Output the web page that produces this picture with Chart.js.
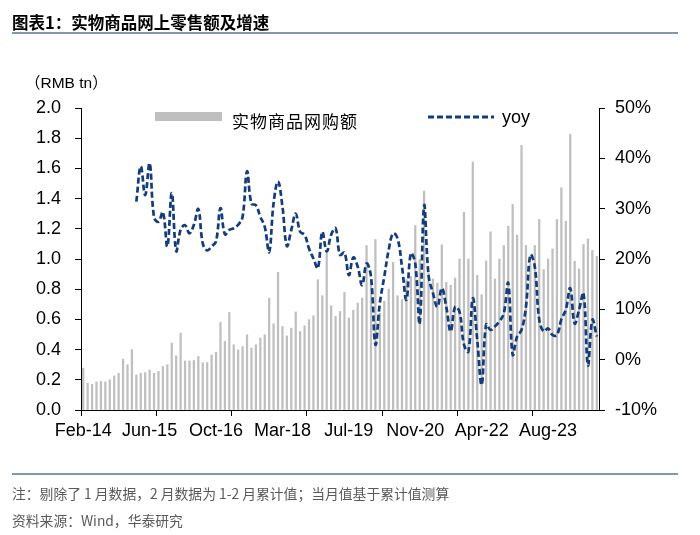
<!DOCTYPE html>
<html><head><meta charset="utf-8">
<script src="https://cdn.jsdelivr.net/npm/chart.js@4/dist/chart.umd.min.js"></script>
<style>
html,body{margin:0;padding:0;background:#fff;}
#wrap{position:relative;width:700px;height:535px;overflow:hidden;background:#fff;}
#c{position:absolute;left:0;top:0;}
.t{position:absolute;white-space:nowrap;line-height:1;}
.rule{position:absolute;left:12px;width:666px;height:2px;background:#8497b0;}
</style></head><body>
<div id="wrap">
<canvas id="c" width="700" height="535"></canvas>
<div class="t" style="left:12px;top:10px;font:bold 16.5px 'Noto Sans CJK SC';color:#000;">图表1：实物商品网上零售额及增速</div>
<div class="rule" style="top:32px;"></div>
<div class="t" style="left:25px;top:70px;font:15.5px 'Liberation Sans','Noto Sans CJK SC';color:#000;">（RMB tn）</div>
<div style="position:absolute;left:155px;top:112px;width:67px;height:9px;background:#bfbfbf;"></div>
<div class="t" style="left:232px;top:108px;font:17px 'Noto Sans CJK SC';letter-spacing:1px;color:#000;">实物商品网购额</div>
<svg style="position:absolute;left:426px;top:110px;" width="70" height="14"><line x1="2" y1="7" x2="68" y2="7" stroke="#143b7a" stroke-width="3" stroke-dasharray="6 3"/></svg>
<div class="t" style="left:502px;top:107px;font:18px 'Liberation Sans';color:#000;">yoy</div>
<div class="rule" style="top:473px;"></div>
<div class="t" style="left:12px;top:483px;font:13.8px 'Noto Sans CJK SC';color:#595959;">注：剔除了 1 月数据，2 月数据为 1-2 月累计值；当月值基于累计值测算</div>
<div class="t" style="left:12px;top:510px;font:13.8px 'Noto Sans CJK SC';color:#595959;">资料来源：Wind，华泰研究</div>
</div>
<script>
// Categories: monthly, January excluded (Feb = Jan-Feb cumulative)
const monthNames = ['Jan','Feb','Mar','Apr','May','Jun','Jul','Aug','Sep','Oct','Nov','Dec'];
const startYear = 2014, endYear = 2024, endMonth = 8;
const categories = [];
for (let y = startYear; y <= endYear; y++) {
  for (let m = 2; m <= 12; m++) {
    if (y === endYear && m > endMonth) break;
    categories.push(monthNames[m-1] + '-' + String(y).slice(2));
  }
}
const tickLabels = ['Feb-14','Jun-15','Oct-16','Mar-18','Jul-19','Nov-20','Apr-22','Aug-23'];

// Online retail sales of physical goods, RMB tn
const onlineSales = [
0.277,0.177,0.170,0.186,0.190,0.186,0.200,0.226,0.243,0.336,0.300,
0.400,0.232,0.243,0.248,0.265,0.243,0.255,0.288,0.300,0.443,0.359,
0.509,0.325,0.325,0.328,0.354,0.314,0.314,0.365,0.383,0.580,0.454,
0.646,0.432,0.398,0.420,0.498,0.410,0.432,0.476,0.498,0.741,0.571,
0.912,0.553,0.491,0.542,0.649,0.520,0.558,0.598,0.624,0.863,0.757,
1.040,0.690,0.620,0.653,0.779,0.609,0.660,0.708,0.741,1.089,0.860,
1.129,0.640,0.720,0.800,0.978,0.757,0.730,0.863,0.885,1.222,0.996,
1.450,0.907,0.868,0.840,1.093,0.845,0.826,0.874,1.000,1.310,1.000,
1.642,0.892,0.764,0.987,1.180,0.868,1.000,1.089,1.217,1.361,1.158,
1.753,1.090,0.970,1.089,1.262,0.930,1.000,1.067,1.262,1.472,1.250,
1.826,0.985,0.934,1.096,1.133,1.056,1.018
];

// Year-on-year growth, %
const yoy = [
null,null,null,null,null,null,null,null,null,null,null,
null,31.4,38.4,32.7,39.0,28.3,27.4,29.3,22.5,33.1,21.6,
25.8,26.7,25.1,26.8,29.9,23.1,21.7,22.5,23.5,30.1,24.9,
25.8,26.1,26.8,28.4,37.4,31.0,30.7,28.4,26.4,21.4,31.1,
35.4,30.4,22.6,25.8,29.0,25.4,24.8,22.1,20.1,18.2,25.4,
21.5,24.8,26.1,20.8,21.3,16.8,20.3,18.5,14.8,19.1,16.5,
3.0,11.2,16.5,21.8,25.1,24.1,18.5,11.9,21.1,19.1,7.2,
30.6,16.8,13.2,10.5,14.2,10.5,5.6,10.5,9.5,3.0,1.6,
12.2,3.9,-5.0,7.0,5.9,6.6,7.6,9.2,15.2,1.0,4.6,
5.9,10.5,20.8,18.5,7.9,5.6,6.2,4.9,4.9,8.0,9.9,
14.2,7.2,9.9,13.2,-1.1,7.9,4.6
];

const tickFont = {family:"'Liberation Sans', Arial, sans-serif", size:18};

new Chart(document.getElementById('c'), {
  data: {
    labels: categories,
    datasets: [
      {type:'line', label:'yoy', data:yoy, yAxisID:'y1', order:0,
       borderColor:'#143b7a', borderWidth:2.7, borderDash:[6,3],
       tension:0.4, pointRadius:0, fill:false, spanGaps:false},
      {type:'bar', label:'实物商品网购额', data:onlineSales, yAxisID:'y', order:1,
       backgroundColor:'#bfbfbf', barThickness:1.6}
    ]
  },
  options: {
    responsive:false, animation:false, devicePixelRatio:1,
    layout:{padding:{top:108,left:0,right:0,bottom:0}},
    plugins:{legend:{display:false}, tooltip:{enabled:false}},
    scales:{
      x:{
        offset:true,
        grid:{offset:true, drawOnChartArea:false, drawTicks:true, tickLength:6,
              color:(ctx)=> (ctx.index!==undefined && ctx.index % 17 === 0) ? '#000' : 'rgba(0,0,0,0)'},
        border:{color:'#000', width:1},
        ticks:{autoSkip:false, maxRotation:0, minRotation:0, padding:4, color:'#000', font:tickFont,
               callback:function(v, i){ const l = categories[i]; return tickLabels.includes(l) ? l : ''; }},
        afterFit:(s)=>{ s.height = 125; }
      },
      y:{
        position:'left', min:0, max:2,
        ticks:{stepSize:0.2, padding:14, color:'#000', font:tickFont, callback:(v)=>v.toFixed(1)},
        grid:{drawOnChartArea:false, drawTicks:true, tickLength:6, color:'#000'},
        border:{color:'#000', width:1},
        afterFit:(s)=>{ s.width = 81; }
      },
      y1:{
        position:'right', min:-10, max:50,
        ticks:{stepSize:10, padding:10, color:'#000', font:tickFont, callback:(v)=>v+'%'},
        grid:{drawOnChartArea:false, drawTicks:true, tickLength:6, color:'#000'},
        border:{color:'#000', width:1},
        afterFit:(s)=>{ s.width = 101; }
      }
    }
  }
});
</script>
</body></html>
